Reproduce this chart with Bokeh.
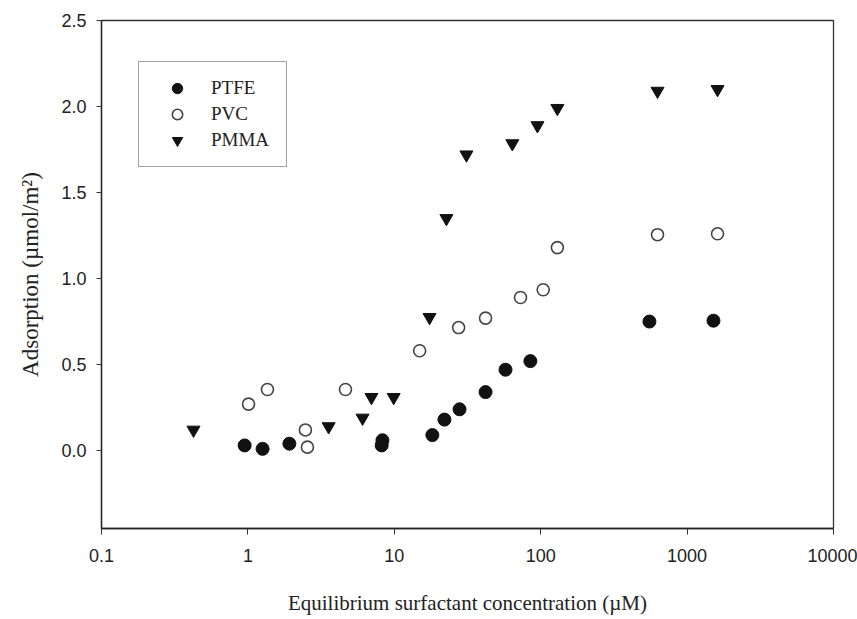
from bokeh.plotting import figure
from bokeh.models import (ColumnDataSource, FixedTicker, Legend, LegendItem, Range1d,
                          NumeralTickFormatter)
from bokeh.embed import file_html
from bokeh.resources import INLINE

# ---- data ----
ptfe_x = [0.95, 1.26, 1.92, 8.3, 8.2, 18.2, 22.0, 27.9, 42.0, 57.5, 85.0, 553.0, 1514.0]
ptfe_y = [0.03, 0.01, 0.04, 0.06, 0.03, 0.09, 0.18, 0.24, 0.34, 0.47, 0.52, 0.75, 0.755]

pvc_x = [1.01, 1.36, 2.47, 2.55, 4.64, 14.9, 27.5, 42.0, 72.8, 104.0, 130.0, 628.0, 1614.0]
pvc_y = [0.27, 0.355, 0.12, 0.02, 0.355, 0.58, 0.715, 0.77, 0.89, 0.935, 1.18, 1.255, 1.26]

pmma_x = [0.425, 3.56, 6.07, 6.98, 9.9, 17.4, 22.7, 31.1, 64.0, 95.0, 130.0, 628.0, 1614.0]
pmma_y = [0.12, 0.14, 0.19, 0.31, 0.31, 0.775, 1.35, 1.72, 1.785, 1.89, 1.99, 2.09, 2.10]

x_tick_values = [0.1, 1, 10, 100, 1000, 10000]
x_tick_labels = ["0.1", "1", "10", "100", "1000", "10000"]
y_tick_values = [0.0, 0.5, 1.0, 1.5, 2.0, 2.5]

SANS = "Liberation Sans"
SERIF = "Liberation Serif"

p = figure(width=857, height=619, x_axis_type="log",
           x_range=Range1d(0.1, 10000), y_range=Range1d(-0.453, 2.5),
           output_backend="svg", toolbar_location=None,
           min_border_left=101, min_border_right=24,
           min_border_top=20, min_border_bottom=91)

p.xgrid.visible = False
p.ygrid.visible = False
p.background_fill_color = "white"
p.border_fill_color = "white"
p.outline_line_color = "#333333"
p.outline_line_width = 1.3

# axes
p.xaxis.ticker = FixedTicker(ticks=x_tick_values)
p.xaxis.major_label_overrides = {v: l for v, l in zip(x_tick_values, x_tick_labels)}
p.yaxis.ticker = FixedTicker(ticks=y_tick_values)
p.yaxis.formatter = NumeralTickFormatter(format="0.0")

for ax in (p.xaxis[0], p.yaxis[0]):
    ax.axis_line_color = "#222222"
    ax.axis_line_width = 1.3
    ax.major_tick_line_color = "#333333"
    ax.minor_tick_line_color = None
    ax.major_tick_in = 0
    ax.major_label_text_font = SANS
    ax.major_label_text_font_size = "18px"
    ax.major_label_text_color = "#222222"
    ax.axis_label_text_font = SERIF
    ax.axis_label_text_font_style = "normal"
    ax.axis_label_text_color = "#222222"

p.xaxis.axis_label_text_font_size = "21px"
p.yaxis.axis_label_text_font_size = "23px"
p.xaxis.major_tick_out = 6
p.yaxis.major_tick_out = 5
p.xaxis.major_label_standoff = 14
p.yaxis.major_label_standoff = 10
p.xaxis.axis_label = "Equilibrium surfactant concentration (µM)"
p.yaxis.axis_label = "Adsorption (µmol/m²)"
p.xaxis.axis_label_standoff = 26
p.yaxis.axis_label_standoff = 15

src_ptfe = ColumnDataSource(dict(x=ptfe_x, y=ptfe_y))
src_pvc = ColumnDataSource(dict(x=pvc_x, y=pvc_y))
src_pmma = ColumnDataSource(dict(x=pmma_x, y=pmma_y))

r1 = p.scatter("x", "y", source=src_ptfe, marker="circle", size=13,
               fill_color="#111111", line_color="#111111", line_width=1)
r2 = p.scatter("x", "y", source=src_pvc, marker="circle", size=12,
               fill_color="white", line_color="#444444", line_width=1.6)
r3 = p.scatter("x", "y", source=src_pmma, marker="inverted_triangle", size=13,
               fill_color="#111111", line_color="#111111", line_width=1)

legend = Legend(items=[LegendItem(label="PTFE", renderers=[r1]),
                       LegendItem(label="PVC", renderers=[r2]),
                       LegendItem(label="PMMA", renderers=[r3])],
                location=(37, 361), orientation="vertical")
legend.padding = 13
legend.margin = 0
legend.spacing = 0
legend.glyph_width = 50
legend.glyph_height = 26
legend.label_height = 26
legend.label_width = 62
legend.label_standoff = 9
legend.label_text_font = SERIF
legend.label_text_font_size = "19px"
legend.label_text_color = "#222222"
legend.border_line_color = "#444444"
legend.border_line_width = 1
legend.background_fill_color = "white"
legend.background_fill_alpha = 1
p.add_layout(legend)

open("out.html", "w").write(file_html(p, INLINE))
